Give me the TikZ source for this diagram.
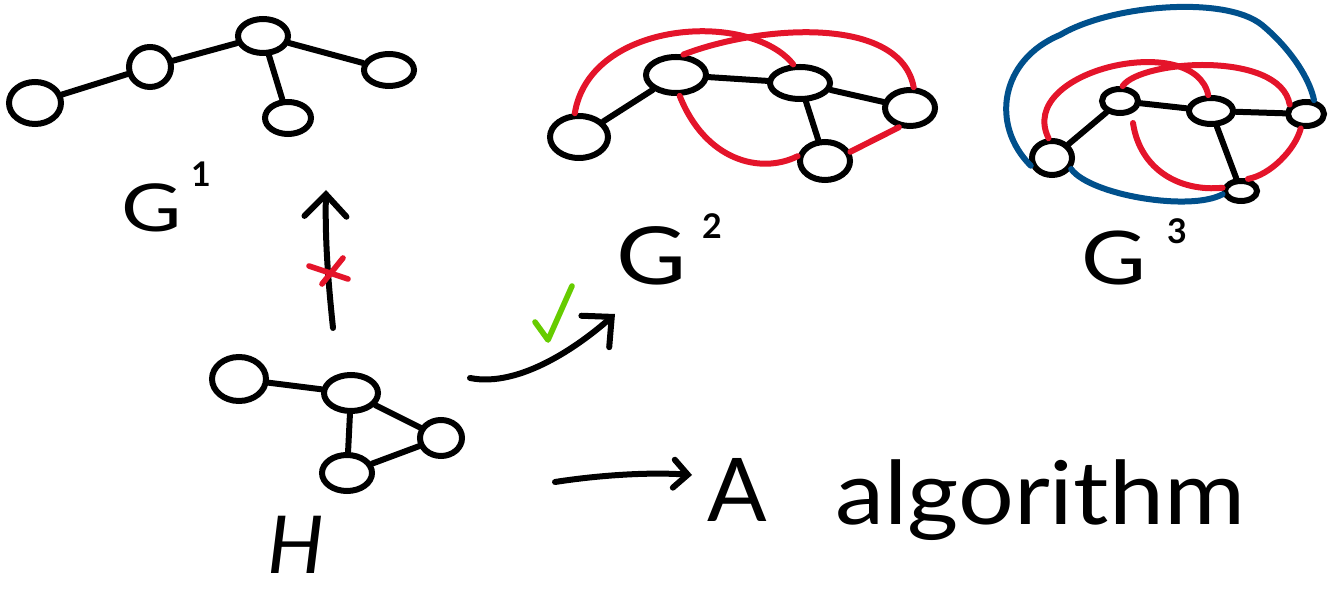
\documentclass[tikz,border=0pt]{standalone}
\usepackage{fontspec}
\setmainfont{Lato}[Numbers=Lining]
\usetikzlibrary{shapes.geometric,arrows.meta}
\definecolor{myred}{RGB}{228,20,42}
\definecolor{myblue}{RGB}{0,80,140}
\definecolor{mygreen}{RGB}{102,204,0}
\tikzset{
  v/.style 2 args={ellipse, draw, line width=3pt, inner sep=0pt,
    minimum width=#1*0.5pt, minimum height=#2*0.5pt},
  edge/.style={line width=3pt, line cap=round},
  redge/.style={edge, draw=myred},
  bedge/.style={edge, draw=myblue},
  arr/.style={edge, -{Straight Barb[length=11pt,width=21pt,line cap=round]}},
  sarr/.style={edge, -{Straight Barb[length=7pt,width=14pt,line cap=round]}},
  lbl/.style={inner sep=0pt, anchor=base},
  suplbl/.style={inner sep=0pt, anchor=base, font=\fontsize{17pt}{17pt}\selectfont\bfseries},
}
\begin{document}
\begin{tikzpicture}[x=0.5pt,y=-0.5pt]
\useasboundingbox (0,0) rectangle (1338,592);
% ---------- G1 ----------
\node[v={52}{42}] (a) at (35,103) {};
\node[v={42}{40}] (b) at (150,67) {};
\node[v={50}{34}] (c) at (263,36) {};
\node[v={50}{32}] (d) at (389,70) {};
\node[v={46}{32}] (e) at (288,118) {};
\draw[edge] (a) -- (b);
\draw[edge] (b) -- (c);
\draw[edge] (c) -- (d);
\draw[edge] (c) -- (e);
\node[lbl, font=\fontsize{33pt}{33pt}\selectfont] (g1lbl) at (152,232) {\scalebox{1.25}[1]{G}};
\node[suplbl] (g1sup) at (201,187) {1};
% ---------- H ----------
\node[v={54}{44}] (h1) at (239,379) {};
\node[v={54}{36}] (h2) at (351,393) {};
\node[v={42}{36}] (h3) at (441,438) {};
\node[v={50}{36}] (h4) at (347,473) {};
\draw[edge] (h1) -- (h2);
\draw[edge] (h2) -- (h3);
\draw[edge] (h2) -- (h4);
\draw[edge] (h4) -- (h3);
\node[lbl, font=\fontsize{40pt}{40pt}\selectfont\itshape] (hlbl) at (296,574) {H};
% ---------- arrows from H ----------
\coordinate (ua) at (333,328);
\coordinate (ub) at (326,190);
\draw[arr] (ua) .. controls (328,280) and (325,240) .. (ub);
\coordinate (x1a) at (309,266);
\coordinate (x1b) at (348,279);
\coordinate (x2a) at (343,258);
\coordinate (x2b) at (322,284);
\draw[edge, draw=myred, line width=2.8pt] (x1a) -- (x1b);
\draw[edge, draw=myred, line width=2.8pt] (x2a) -- (x2b);
\coordinate (hs) at (470,378);
\coordinate (ht) at (615,314);
\draw[arr] (hs) .. controls (520,388) and (580,345) .. (ht);
\coordinate (ck1) at (535,322);
\coordinate (ck2) at (548,340);
\coordinate (ck3) at (572,286);
\draw[edge, draw=mygreen, line width=2.8pt, line join=round] (ck1) -- (ck2) -- (ck3);
% ---------- G2 ----------
\node[v={58}{42}] (n1) at (579,137) {};
\node[v={60}{36}] (n2) at (676,75) {};
\node[v={60}{32}] (n3) at (800,83) {};
\node[v={50}{36}] (n4) at (910,108) {};
\node[v={50}{38}] (n5) at (825,161) {};
\draw[edge] (n1) -- (n2);
\draw[edge] (n2) -- (n3);
\draw[edge] (n3) -- (n4);
\draw[edge] (n3) -- (n5);
\draw[redge] (n1.100) .. controls (590,20) and (750,10) .. (n3.110);
\draw[redge] (n2.70) .. controls (760,25) and (900,15) .. (n4.80);
\draw[redge] (n2.-80) .. controls (705,160) and (760,175) .. (n5.170);
\draw[redge] (n5.20) -- (n4.-120);
\node[lbl, font=\fontsize{40pt}{40pt}\selectfont] (g2lbl) at (652,285) {\scalebox{1.2}[1]{G}};
\node[suplbl] (g2sup) at (712,239) {2};
% ---------- G3 ----------
\node[v={40}{34}] (m1) at (1052,158) {};
\node[v={36}{24}] (m2) at (1120,101) {};
\node[v={44}{26}] (m3) at (1211,111) {};
\node[v={36}{24}] (m4) at (1306,114) {};
\node[v={32}{20}] (m5) at (1241,191) {};
\draw[edge] (m1) -- (m2);
\draw[edge] (m2) -- (m3);
\draw[edge] (m3) -- (m4);
\draw[edge] (m3) -- (m5);
\draw[redge] (m1.100) .. controls (1015,70) and (1195,30) .. (m3.100);
\draw[redge] (m2.80) .. controls (1140,60) and (1280,50) .. (m4.150);
\draw[redge] (m4.-110) .. controls (1295,150) and (1270,175) .. (m5.60);
\coordinate (rf) at (1133,123);
\draw[redge] (rf) .. controls (1140,170) and (1180,192) .. (m5.170);
\draw[bedge] (m1.200) .. controls (990,125) and (1000,60) .. (1060,35)
  .. controls (1110,5) and (1225,-5) .. (1262,25)
  .. controls (1292,50) and (1310,80) .. (m4.60);
\draw[bedge] (m1.-30) .. controls (1090,195) and (1190,212) .. (m5.190);
\node[lbl, font=\fontsize{37pt}{37pt}\selectfont] (g3lbl) at (1114,285) {\scalebox{1.2}[1]{G}};
\node[suplbl] (g3sup) at (1177,244) {3};
% ---------- A algorithm ----------
\coordinate (aa) at (555,482);
\coordinate (ab) at (692,475);
\draw[sarr] (aa) .. controls (600,475) and (650,472) .. (ab);
\node[lbl, font=\fontsize{44pt}{44pt}\selectfont] (atxt) at (737,522) {A};
\node[inner sep=0pt, anchor=base west, font=\fontsize{44pt}{44pt}\selectfont] (algtxt) at (835,525) {\scalebox{1.12}[1]{algorithm}};
\end{tikzpicture}
\end{document}
